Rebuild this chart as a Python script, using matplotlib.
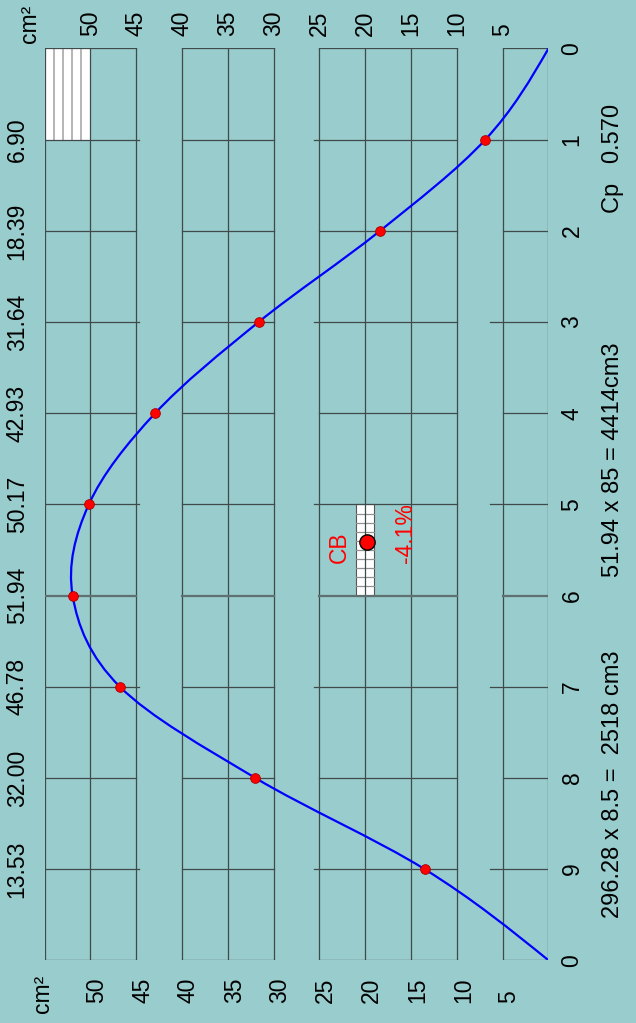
import matplotlib
matplotlib.use('Agg')
import matplotlib.pyplot as plt
from matplotlib.path import Path
from matplotlib.patches import PathPatch, Rectangle

plt.rcParams['font.family'] = ['Liberation Sans', 'DejaVu Sans']

# データ
stations = [0, 1, 2, 3, 4, 5, 6, 7, 8, 9, 10]
areas = [0, 6.90, 18.39, 31.64, 42.93, 50.17, 51.94, 46.78, 32.00, 13.53, 0]
area_labels = ['6.90', '18.39', '31.64', '42.93', '50.17', '51.94', '46.78', '32.00', '13.53']
station_labels = ['0', '1', '2', '3', '4', '5', '6', '7', '8', '9', '0']
value_ticks = [50, 45, 40, 35, 30, 25, 20, 15, 10, 5]
cb_station = 5.41
cb_value = 19.8
cb_pct = '-4.1%'
cp_text = 'Cp   0.570'
vol_mid = '51.94 x 85 = 4414cm3'
vol_total = '296.28 x 8.5 =  2518 cm3'

bg = '#99cccc'
gc = '#3f4b4b'
fs = 16.5

fig = plt.figure(figsize=(6.36, 10.23), dpi=100, facecolor=bg)
ax = fig.add_axes([0.0701, 0.0613, 0.7923, 0.8913])
ax.set_facecolor(bg)
ax.set_xlim(55, 0)
ax.set_ylim(10, 0)
ax.axis('off')

# 縦の格子線
for v in range(0, 56, 5):
    ax.plot([v, v], [0, 10], color=gc, lw=0.9, zorder=3)

# 横の格子線 (途切れている)
even_segs = [(55, 45), (40, 30), (25, 10), (5, 0)]
odd_segs = [(55, 44.7), (40, 30), (25.6, 10), (6.4, 0)]
for s in stations:
    segs = odd_segs if s % 2 else even_segs
    lw, col = (1.6, '#5f7070') if s == 6 else (0.9, gc)
    for a, b in segs:
        ax.plot([a, b], [s, s], color=col, lw=lw, zorder=3)

# 左上の白い箱
ax.add_patch(Rectangle((50, 0), 5, 1, facecolor='white', edgecolor='none', zorder=2))
for v in [51, 52, 53, 54]:
    ax.plot([v, v], [0, 1], color='#a8a8a8', lw=1.2, zorder=2.5)

# CBの箱
ax.add_patch(Rectangle((19, 5), 2, 1, facecolor='white', edgecolor='#555555', lw=0.8, zorder=2))
for k in range(1, 10):
    ax.plot([19, 21], [5 + k / 10, 5 + k / 10], color='#909090', lw=0.9, zorder=2.5)

# 曲線 (ベジェ)
n = len(areas)
m = [0.0] * n
for i in range(1, n - 1):
    m[i] = (areas[i + 1] - areas[i - 1]) / 2
m[0] = 1.5 * (areas[1] - areas[0]) - m[1] / 2
m[-1] = 1.5 * (areas[-1] - areas[-2]) - m[-2] / 2
verts = [(areas[0], stations[0])]
codes = [Path.MOVETO]
for i in range(n - 1):
    verts += [(areas[i] + m[i] / 3, stations[i] + 1 / 3),
              (areas[i + 1] - m[i + 1] / 3, stations[i + 1] - 1 / 3),
              (areas[i + 1], stations[i + 1])]
    codes += [Path.CURVE4] * 3
ax.add_patch(PathPatch(Path(verts, codes), facecolor='none', edgecolor='#0000ff', lw=1.6, zorder=4))

ax.plot(areas[1:-1], stations[1:-1], 'o', ms=7, mfc='#ff0000', mec='#aa0000', mew=0.6, zorder=5)

# CB
ax.plot([cb_value], [cb_station], 'o', ms=11, mfc='#ff0000', mec='black', mew=1, zorder=6)
ax.text(22.85, 5.64, 'CB', rotation=90, ha='center', va='bottom', fontsize=fs, color='#ff0000')
ax.text(15.56, 5.64, cb_pct, rotation=90, ha='center', va='bottom', fontsize=fs, color='#ff0000')

# 目盛りラベル
for v in value_ticks:
    ax.text(v, -0.137, str(v), rotation=90, ha='center', va='bottom', fontsize=fs, clip_on=False)
    ax.text(v - 0.7, 10.466, str(v), rotation=90, ha='center', va='bottom', fontsize=fs, clip_on=False)
ax.text(56.6, -0.06, 'cm²', rotation=90, ha='center', va='bottom', fontsize=fs, clip_on=False)
ax.text(55.2, 10.575, 'cm²', rotation=90, ha='center', va='bottom', fontsize=fs, clip_on=False)

for s, lab in zip(stations[1:-1], area_labels):
    ax.text(58.0, s, lab, rotation=90, ha='center', va='center', fontsize=fs, clip_on=False)
for s, lab in zip(stations, station_labels):
    ax.text(-2.57, s, lab, rotation=90, ha='center', va='center', fontsize=fs, clip_on=False)

ax.text(-7.0, 1.804, cp_text, rotation=90, ha='center', va='bottom', fontsize=17, clip_on=False)
ax.text(-7.0, 5.795, vol_mid, rotation=90, ha='center', va='bottom', fontsize=17, clip_on=False)
ax.text(-7.0, 9.534, vol_total, rotation=90, ha='center', va='bottom', fontsize=17, clip_on=False)

fig.savefig('out.png', dpi=100, facecolor=bg)
